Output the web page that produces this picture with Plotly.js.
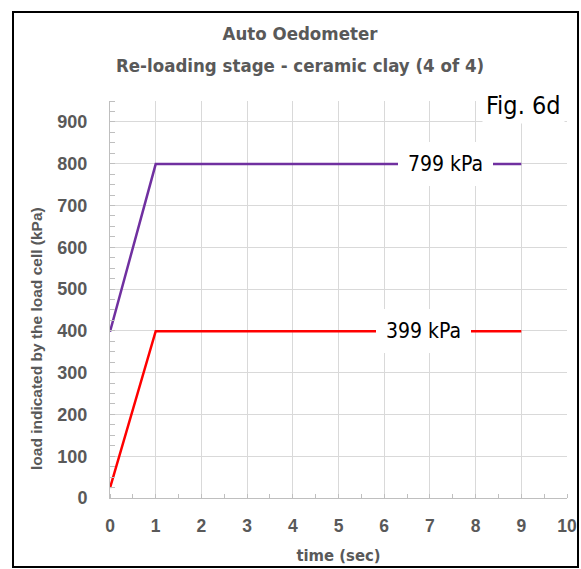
<!DOCTYPE html>
<html>
<head>
<meta charset="utf-8">
<script src="https://cdn.plot.ly/plotly-3.0.1.min.js"></script>
<style>
  html, body { margin:0; padding:0; background:#fff; }
  #wrap { position:relative; width:581px; height:569px; }
  #chart { width:581px; height:569px; }
  #frame { position:absolute; left:12px; top:11px; width:563px; height:553px; border:2.5px solid #000; pointer-events:none; }
</style>
</head>
<body>
<div id="wrap">
  <div id="chart"></div>
  <div id="frame"></div>
</div>
<script>
// Data
const timeSec = [0, 1, 2, 3, 4, 5, 6, 7, 8, 9];
const load799 = [398, 799, 799, 799, 799, 799, 799, 799, 799, 799];
const load399 = [24, 399, 399, 399, 399, 399, 399, 399, 399, 399];
const xTicks = [0, 1, 2, 3, 4, 5, 6, 7, 8, 9, 10];
const yTicks = [0, 100, 200, 300, 400, 500, 600, 700, 800, 900];
const titleLine1 = 'Auto Oedometer';
const titleLine2 = 'Re-loading stage - ceramic clay (4 of 4)';
const labelText799 = '799 kPa';
const labelText399 = '399 kPa';

const COND = '"DejaVu Sans Condensed", "DejaVu Sans", sans-serif';
const BOLD = '"Liberation Sans", Arial, sans-serif';

const traces = [
  { x: timeSec, y: load799, mode: 'lines', line: { color: '#7030A0', width: 2.5 }, hoverinfo: 'skip' },
  { x: timeSec, y: load399, mode: 'lines', line: { color: '#FF0000', width: 2.5 }, hoverinfo: 'skip' }
];

const layout = {
  width: 581, height: 569,
  margin: { l: 110, r: 14, t: 101, b: 71 },
  paper_bgcolor: '#fff', plot_bgcolor: '#fff',
  showlegend: false,
  title: {
    text: titleLine1,
    font: { family: COND, size: 18.5, color: '#595959', weight: 'bold', stretch: 'condensed' },
    x: 300/581, xref: 'container', xanchor: 'center',
    y: 1 - 34/569, yref: 'container', yanchor: 'middle'
  },
  xaxis: {
    range: [0, 10], tickvals: xTicks, ticktext: xTicks.map(String),
    showgrid: true, gridcolor: '#d9d9d9', gridwidth: 1,
    showline: true, linecolor: '#bfbfbf', linewidth: 1,
    zeroline: false, ticks: '', ticklabelstandoff: 12,
    tickfont: { family: BOLD, size: 17.5, color: '#595959', weight: 'bold' },
    minor: { dtick: 0.5, ticks: 'inside', ticklen: 4, tickcolor: '#bfbfbf', showgrid: false },
    title: { text: 'time (sec)', font: { family: COND, size: 16.5, color: '#595959', weight: 'bold', stretch: 'condensed' }, standoff: 14 }
  },
  yaxis: {
    range: [0, 950], tickvals: yTicks, ticktext: yTicks.map(String),
    showgrid: true, gridcolor: '#d9d9d9', gridwidth: 1,
    showline: true, linecolor: '#bfbfbf', linewidth: 1,
    zeroline: false, ticks: '', ticklabelstandoff: 18,
    tickfont: { family: BOLD, size: 18, color: '#595959', weight: 'bold' },
    minor: { dtick: 25, ticks: 'inside', ticklen: 5, tickcolor: '#bfbfbf', showgrid: false }
  },
  annotations: [
    { x: 300/581 * 581 / 457 - 110/457, y: (498 - 65) / 397, xref: 'paper', yref: 'paper',
      xanchor: 'center', yanchor: 'middle', text: titleLine2, showarrow: false,
      font: { family: COND, size: 18.5, color: '#595959', weight: 'bold', stretch: 'condensed' } },
    { x: 0, y: (498 - 339) / 397, xref: 'paper', yref: 'paper', xshift: -74, textangle: -90,
      xanchor: 'center', yanchor: 'middle', text: 'load indicated by the load cell (kPa)', showarrow: false,
      font: { family: BOLD, size: 15.5, color: '#595959', weight: 'bold' } },
    { x: 7.35, y: 799, xref: 'x', yref: 'y', text: labelText799, showarrow: false,
      font: { family: COND, size: 21, color: '#000', stretch: 'condensed' }, bgcolor: '#fff', borderpad: 10, borderwidth: 0 },
    { x: 6.87, y: 399, xref: 'x', yref: 'y', text: labelText399, showarrow: false,
      font: { family: COND, size: 21, color: '#000', stretch: 'condensed' }, bgcolor: '#fff', borderpad: 10, borderwidth: 0 },
    { x: 1, y: 1, xref: 'paper', yref: 'paper', xanchor: 'right', yanchor: 'middle', xshift: -2, yshift: -4,
      text: 'Fig. 6d', showarrow: false, font: { family: COND, size: 25, color: '#000', stretch: 'condensed' },
      bgcolor: '#fff', borderpad: 3 }
  ]
};

Plotly.newPlot('chart', traces, layout, { staticPlot: true, displayModeBar: false });
</script>
</body>
</html>
